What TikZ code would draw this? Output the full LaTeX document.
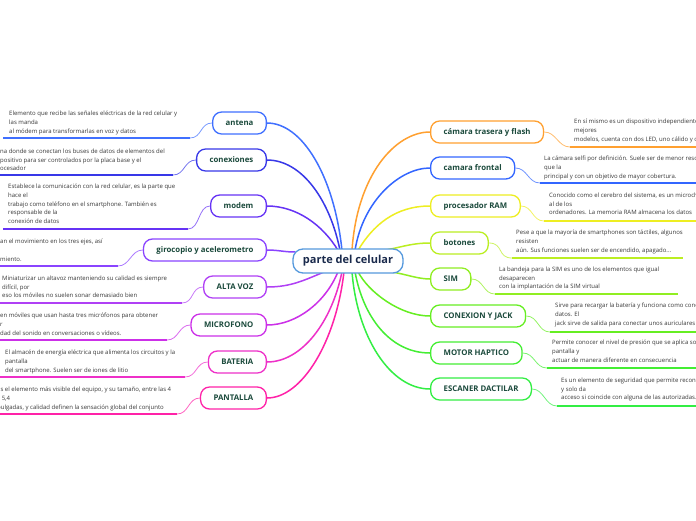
\documentclass[tikz,border=0pt]{standalone}
\usepackage{fontspec}
\setmainfont{Open Sans}
\usetikzlibrary{calc,backgrounds}
\definecolor{cL1}{HTML}{4070FF}
\definecolor{cL2}{HTML}{3838E8}
\definecolor{cL3}{HTML}{6633F5}
\definecolor{cL4}{HTML}{8A44FF}
\definecolor{cL5}{HTML}{B040F5}
\definecolor{cL6}{HTML}{CC30E8}
\definecolor{cL7}{HTML}{EE30C8}
\definecolor{cL8}{HTML}{FF22A8}
\definecolor{cR1}{HTML}{FFA030}
\definecolor{cR2}{HTML}{3366FF}
\definecolor{cR3}{HTML}{EEEE22}
\definecolor{cR4}{HTML}{BBEE22}
\definecolor{cR5}{HTML}{90EE22}
\definecolor{cR6}{HTML}{66EE22}
\definecolor{cR7}{HTML}{44EE33}
\definecolor{cR8}{HTML}{33EE44}
\definecolor{cC}{HTML}{5599DD}
\definecolor{nodetext}{HTML}{1B4A3C}
\definecolor{centertext}{HTML}{1A2A4C}
\definecolor{leaftext}{HTML}{383838}
\begin{document}
\begin{tikzpicture}[x=1pt,y=-1pt,
  branch/.style={draw=#1, line width=1.3pt, rounded corners=9pt, fill=white,
    font=\bfseries\fontsize{7.8}{8.5}\selectfont, text=nodetext,
    minimum height=22pt, inner xsep=13pt, inner ysep=0pt},
  leaf/.style={font=\fontsize{6}{8.6}\selectfont, text=leaftext, align=left,
    inner sep=0pt, anchor=north west},
  link/.style={line width=1.5pt, draw=#1},
  ul/.style={line width=2.2pt, draw=#1},
  twig/.style={line width=0.8pt, draw=#1!70}]
\useasboundingbox (0,0) rectangle (696,520);
\clip (0,0) rectangle (696,520);

% center
\node[draw=cC, line width=1.3pt, rounded corners=10pt, fill=white,
  minimum width=110pt, minimum height=24pt,
  font=\bfseries\fontsize{11}{12}\selectfont, text=centertext] (c) at (348,261) {parte del celular};

% left branches
\node[branch=cL1, anchor=east] (n1) at (267,123) {antena};
\node[branch=cL2, anchor=east] (n2) at (267,160) {conexiones};
\node[branch=cL3, anchor=east] (n3) at (267,206) {modem};
\node[branch=cL4, anchor=east] (n4) at (267,250) {girocopio y acelerometro};
\node[branch=cL5, anchor=east] (n5) at (267,287) {ALTA VOZ};
\node[branch=cL6, anchor=east] (n6) at (267,325) {MICROFONO};
\node[branch=cL7, anchor=east] (n7) at (267,362) {BATERIA};
\node[branch=cL8, anchor=east] (n8) at (267,398) {PANTALLA};

% right branches
\node[branch=cR1, anchor=west] (r1) at (430,132) {cámara trasera y flash};
\node[branch=cR2, anchor=west] (r2) at (430,168) {camara frontal};
\node[branch=cR3, anchor=west] (r3) at (430,206) {procesador RAM};
\node[branch=cR4, anchor=west] (r4) at (430,243) {botones};
\node[branch=cR5, anchor=west] (r5) at (430,279) {SIM};
\node[branch=cR6, anchor=west] (r6) at (430,316) {CONEXION Y JACK};
\node[branch=cR7, anchor=west] (r7) at (430,353) {MOTOR HAPTICO};
\node[branch=cR8, anchor=west] (r8) at (430,389) {ESCANER DACTILAR};

% left leaves
\node[leaf] (t1) at (9,111) {Elemento que recibe las señales eléctricas de la red celular y\\las manda\\al módem para transformarlas en voz y datos};
\node[leaf] (t2) at (0,149) {na donde se conectan los buses de datos de elementos del\\positivo para ser controlados por la placa base y el\\ocesador};
\node[leaf] (t3) at (8,184) {Establece la comunicación con la red celular, es la parte que\\hace el\\trabajo como teléfono en el smartphone. También es\\responsable de la\\conexión de datos};
\node[leaf] (t4) at (0,239) {an el movimiento en los tres ejes, así\\\mbox{}\\miento.};
\node[leaf] (t5) at (2,276) {Miniaturizar un altavoz manteniendo su calidad es siempre\\difícil, por\\eso los móviles no suelen sonar demasiado bien};
\node[leaf] (t6) at (0,313) {en móviles que usan hasta tres micrófonos para obtener\\r\\dad del sonido en conversaciones o vídeos.};
\node[leaf] (t7) at (5,350) {El almacén de energía eléctrica que alimenta los circuitos y la\\pantalla\\del smartphone. Suelen ser de iones de litio};
\node[leaf] (t8) at (-3,387) {Es el elemento más visible del equipo, y su tamaño, entre las 4\\y 5,4\\pulgadas, y calidad definen la sensación global del conjunto};

% right leaves
\node[leaf] (s1) at (574,119) {En sí mismo es un dispositivo independiente\\mejores\\modelos, cuenta con dos LED, uno cálido y otro};
\node[leaf] (s2) at (544,156) {La cámara selfi por definición. Suele ser de menor resolución\\que la\\principal y con un objetivo de mayor cobertura.};
\node[leaf] (s3) at (549,193) {Conocido como el cerebro del sistema, es un microchip\\al de los\\ordenadores. La memoria RAM almacena los datos};
\node[leaf] (s4) at (516,230) {Pese a que la mayoría de smartphones son táctiles, algunos\\resisten\\aún. Sus funciones suelen ser de encendido, apagado...};
\node[leaf] (s5) at (499,267) {La bandeja para la SIM es uno de los elementos que igual\\desaparecen\\con la implantación de la SIM virtual};
\node[leaf] (s6) at (555,303) {Sirve para recargar la batería y funciona como conector\\datos. El\\jack sirve de salida para conectar unos auriculares};
\node[leaf] (s7) at (552,340) {Permite conocer el nivel de presión que se aplica sobre\\pantalla y\\actuar de manera diferente en consecuencia};
\node[leaf] (s8) at (561,378) {Es un elemento de seguridad que permite reconocer\\y solo da\\acceso si coincide con alguna de las autorizadas.};

% underline coordinates
\coordinate (a1s) at (3,138);  \coordinate (a1e) at (190,138);
\coordinate (a2s) at (0,175);  \coordinate (a2e) at (173,175);
\coordinate (a3s) at (3,229);  \coordinate (a3e) at (188,229);
\coordinate (a4s) at (0,266);  \coordinate (a4e) at (118,266);
\coordinate (a5s) at (0,303);  \coordinate (a5e) at (182,303);
\coordinate (a6s) at (0,340);  \coordinate (a6e) at (167,340);
\coordinate (a7s) at (0,377);  \coordinate (a7e) at (185,377);
\coordinate (a8s) at (0,414);  \coordinate (a8e) at (177,414);
\coordinate (b1s) at (570,147); \coordinate (b1e) at (697,147);
\coordinate (b2s) at (540,183); \coordinate (b2e) at (697,183);
\coordinate (b3s) at (544,221); \coordinate (b3e) at (697,221);
\coordinate (b4s) at (512,258); \coordinate (b4e) at (683,258);
\coordinate (b5s) at (495,294); \coordinate (b5e) at (678,294);
\coordinate (b6s) at (550,332); \coordinate (b6e) at (697,332);
\coordinate (b7s) at (547,368); \coordinate (b7e) at (697,368);
\coordinate (b8s) at (557,406); \coordinate (b8e) at (697,406);

\begin{scope}[on background layer]
\fill[white] (0,0) rectangle (696,520);
% center to left
\draw[link=cL1] (n1.east) .. controls +(35,0) and +(-8,-75) .. ($(c.north)+(-6,2)$);
\draw[link=cL2] (n2.east) .. controls +(35,0) and +(-10,-50) .. ($(c.north)+(-8,2)$);
\draw[link=cL3] (n3.east) .. controls +(30,0) and +(-15,-25) .. ($(c.north)+(-10,2)$);
\draw[link=cL4] (n4.east) .. controls +(12,0) and +(-12,0) .. ($(c.west)+(3,-9)$);
\draw[link=cL5] (n5.east) .. controls +(25,0) and +(-20,8) .. ($(c.south)+(-23,-2)$);
\draw[link=cL6] (n6.east) .. controls +(30,0) and +(-12,30) .. ($(c.south)+(-10,-2)$);
\draw[link=cL7] (n7.east) .. controls +(35,0) and +(-10,50) .. ($(c.south)+(-6,-2)$);
\draw[link=cL8] (n8.east) .. controls +(35,0) and +(-8,70) .. ($(c.south)+(-4,-2)$);
% center to right
\draw[link=cR1] (r1.west) .. controls +(-35,0) and +(5,-75) .. ($(c.north)+(4,2)$);
\draw[link=cR2] (r2.west) .. controls +(-30,0) and +(8,-50) .. ($(c.north)+(7,2)$);
\draw[link=cR3] (r3.west) .. controls +(-35,0) and +(15,-25) .. ($(c.north)+(10,2)$);
\draw[link=cR4] (r4.west) .. controls +(-20,0) and +(15,-2) .. ($(c.north)+(35,2)$);
\draw[link=cR5] (r5.west) .. controls +(-15,0) and +(15,0) .. ($(c.south)+(37,-2)$);
\draw[link=cR6] (r6.west) .. controls +(-30,0) and +(10,20) .. ($(c.south)+(10,-2)$);
\draw[link=cR7] (r7.west) .. controls +(-40,0) and +(8,45) .. ($(c.south)+(7,-2)$);
\draw[link=cR8] (r8.west) .. controls +(-40,0) and +(5,65) .. ($(c.south)+(4,-2)$);
% left twigs and underlines
\draw[twig=cL1] (n1.west) .. controls +(-12,0) and +(12,0) .. (a1e);
\draw[twig=cL2] (n2.west) .. controls +(-12,0) and +(12,0) .. (a2e);
\draw[twig=cL3] (n3.west) .. controls +(-12,0) and +(12,0) .. (a3e);
\draw[twig=cL4] (n4.west) .. controls +(-12,0) and +(12,0) .. (a4e);
\draw[twig=cL5] (n5.west) .. controls +(-12,0) and +(12,0) .. (a5e);
\draw[twig=cL6] (n6.west) .. controls +(-12,0) and +(12,0) .. (a6e);
\draw[twig=cL7] (n7.west) .. controls +(-12,0) and +(12,0) .. (a7e);
\draw[twig=cL8] (n8.west) .. controls +(-12,0) and +(12,0) .. (a8e);
\draw[ul=cL1] (a1s) -- (a1e);
\draw[ul=cL2] (a2s) -- (a2e);
\draw[ul=cL3] (a3s) -- (a3e);
\draw[ul=cL4] (a4s) -- (a4e);
\draw[ul=cL5] (a5s) -- (a5e);
\draw[ul=cL6] (a6s) -- (a6e);
\draw[ul=cL7] (a7s) -- (a7e);
\draw[ul=cL8] (a8s) -- (a8e);
% right twigs and underlines
\draw[twig=cR1] (r1.east) .. controls +(12,0) and +(-12,0) .. (b1s);
\draw[twig=cR2] (r2.east) .. controls +(12,0) and +(-12,0) .. (b2s);
\draw[twig=cR3] (r3.east) .. controls +(12,0) and +(-12,0) .. (b3s);
\draw[twig=cR4] (r4.east) .. controls +(15,0) and +(-15,0) .. (b4s);
\draw[twig=cR5] (r5.east) .. controls +(12,0) and +(-12,0) .. (b5s);
\draw[twig=cR6] (r6.east) .. controls +(12,0) and +(-12,0) .. (b6s);
\draw[twig=cR7] (r7.east) .. controls +(12,0) and +(-12,0) .. (b7s);
\draw[twig=cR8] (r8.east) .. controls +(12,0) and +(-12,0) .. (b8s);
\draw[ul=cR1] (b1s) -- (b1e);
\draw[ul=cR2] (b2s) -- (b2e);
\draw[ul=cR3] (b3s) -- (b3e);
\draw[ul=cR4] (b4s) -- (b4e);
\draw[ul=cR5] (b5s) -- (b5e);
\draw[ul=cR6] (b6s) -- (b6e);
\draw[ul=cR7] (b7s) -- (b7e);
\draw[ul=cR8] (b8s) -- (b8e);
\end{scope}
\end{tikzpicture}
\end{document}
